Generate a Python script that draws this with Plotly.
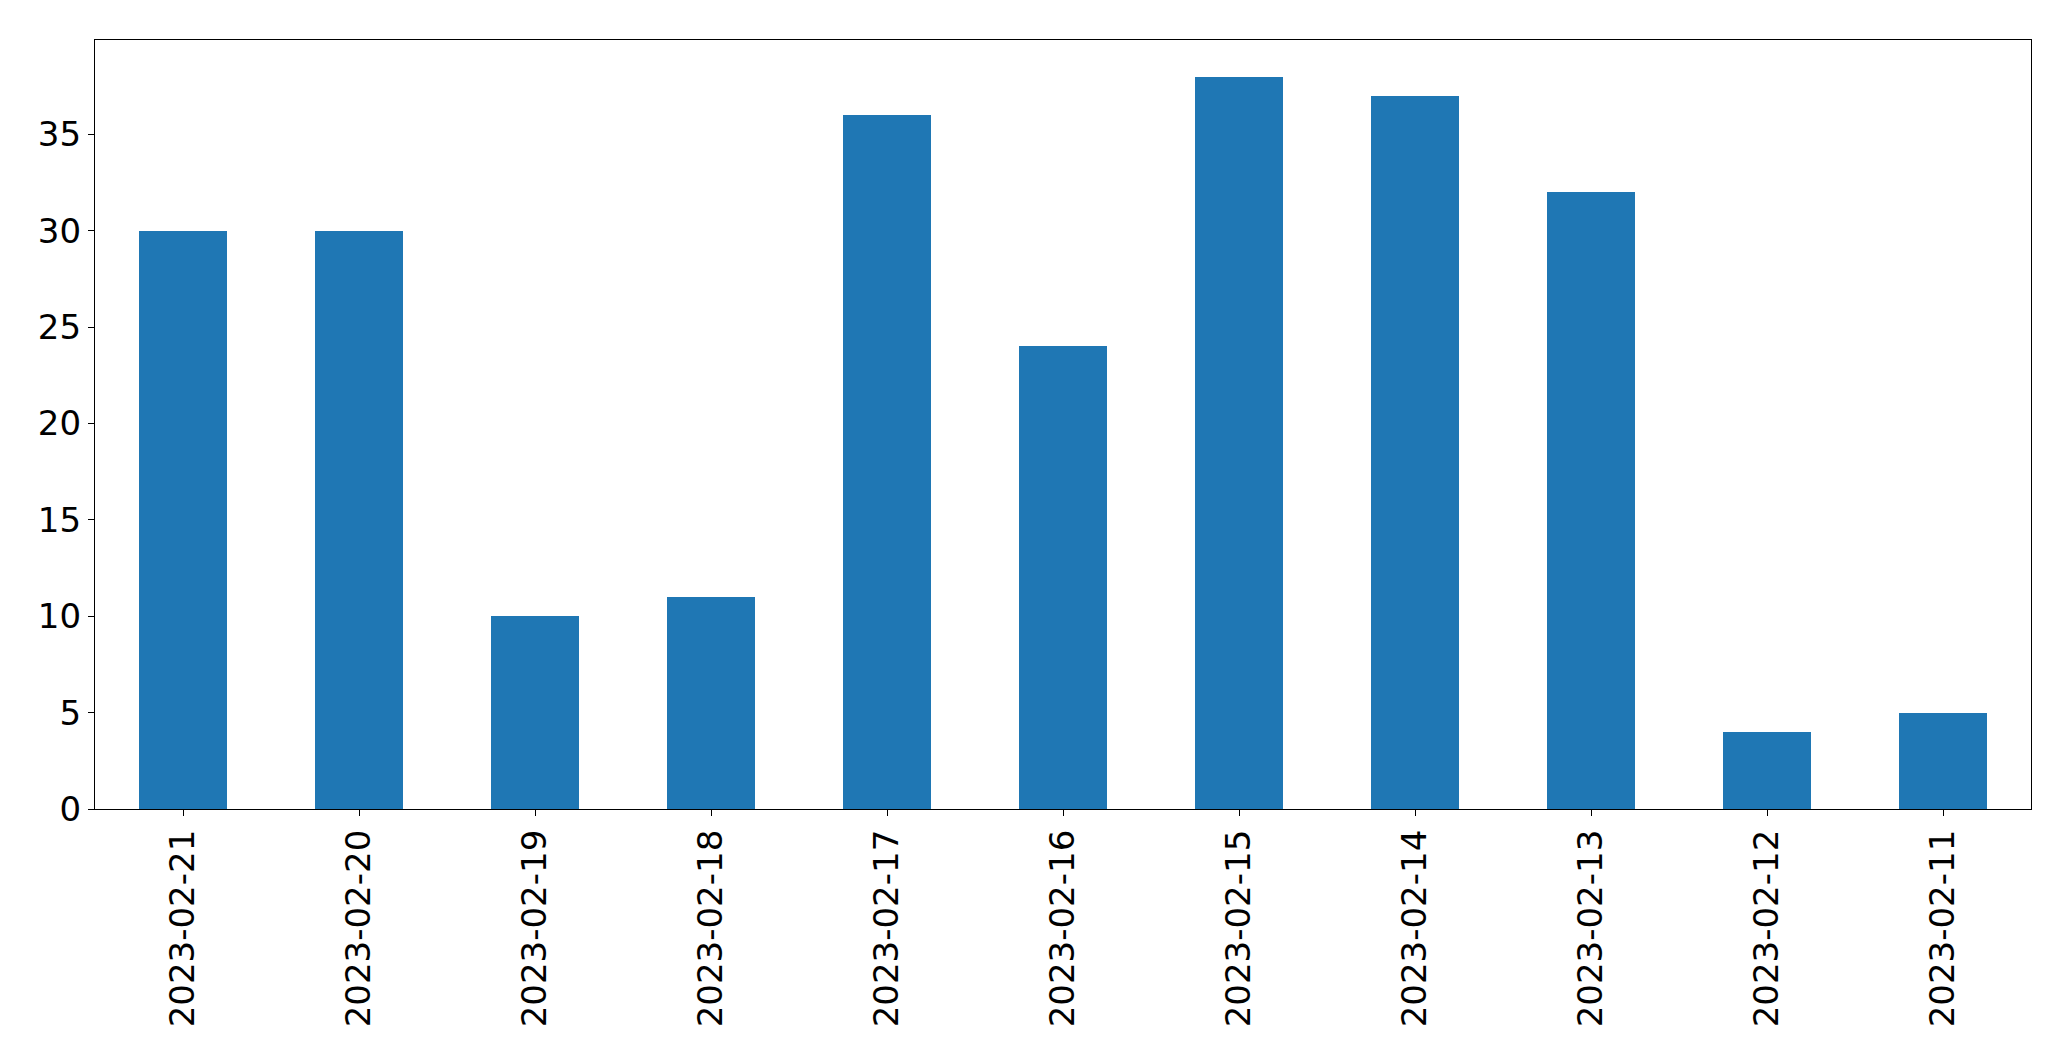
import plotly.graph_objects as go

dates = ["2023-02-21", "2023-02-20", "2023-02-19", "2023-02-18", "2023-02-17",
         "2023-02-16", "2023-02-15", "2023-02-14", "2023-02-13", "2023-02-12", "2023-02-11"]
counts = [30, 30, 10, 11, 36, 24, 38, 37, 32, 4, 5]
y_ticks = [0, 5, 10, 15, 20, 25, 30, 35]

positions = list(range(len(dates)))

fig = go.Figure(go.Bar(x=positions, y=counts, width=0.5, marker=dict(color="#1f77b4", line=dict(width=0))))

fig.update_layout(
    width=2063, height=1053,
    margin=dict(l=86.5, r=39.5, t=31.5, b=252, autoexpand=False),
    paper_bgcolor="white", plot_bgcolor="white",
    font=dict(family="DejaVu Sans", size=34, color="black"),
    showlegend=False,
    bargap=0,
)
fig.update_xaxes(
    range=[-0.5, len(dates) - 0.5], tickvals=positions, ticktext=dates, tickangle=-90,
    showline=True, mirror=True, linecolor="black", linewidth=1.3,
    ticks="outside", ticklen=6, tickwidth=1.3, tickcolor="black",
    showgrid=False, zeroline=False, automargin=False,
)
fig.update_yaxes(
    range=[0, 39.9], tickvals=y_ticks,
    showline=True, mirror=True, linecolor="black", linewidth=1.3,
    ticks="outside", ticklen=6, tickwidth=1.3, tickcolor="black",
    showgrid=False, zeroline=False, automargin=False,
)
fig.write_html("out.html")
